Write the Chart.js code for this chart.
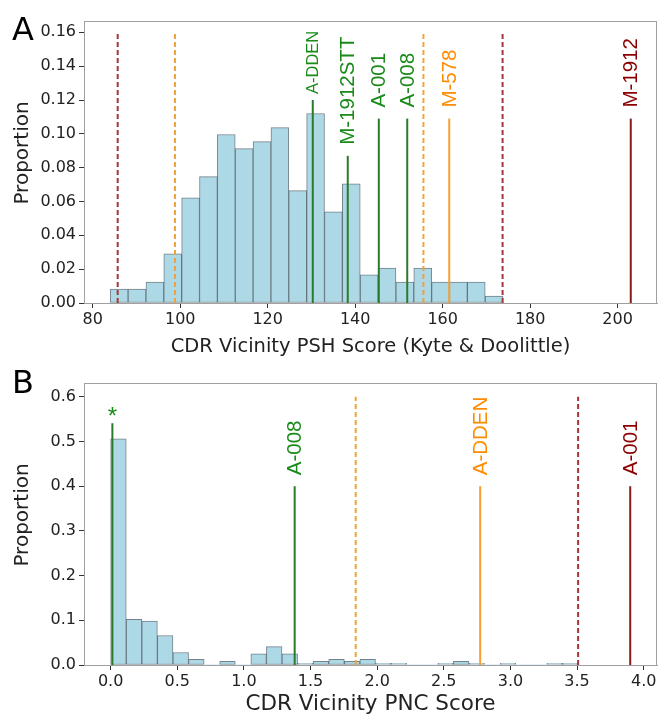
<!DOCTYPE html>
<html><head><meta charset="utf-8">
<script src="https://cdn.jsdelivr.net/npm/chart.js@4/dist/chart.umd.min.js"></script>
<style>
html,body{margin:0;padding:0;background:#fff;width:661px;height:717px;overflow:hidden}
#wa{position:absolute;left:0;top:0;width:661px;height:362px}
#wb{position:absolute;left:0;top:362px;width:661px;height:355px}
</style></head><body>
<div id="wa"><canvas id="ca"></canvas></div>
<div id="wb"><canvas id="cb"></canvas></div>
<script>
// ---- Panel A data (PSH score histogram) ----
const binStartA = 84.0;
const binWidthA = 4.082;
const propA = [0.0083,0.0083,0.0124,0.0290,0.0622,0.0747,0.0996,0.0913,0.0954,0.1037,0.0664,0.1120,0.0539,0.0705,0.0166,0.0207,0.0124,0.0207,0.0124,0.0124,0.0124,0.0041];
const markerNamesA = ['A-DDEN','M-1912STT','A-001','A-008','M-578','M-1912'];
const markerValuesA = [130.3,138.3,145.4,151.9,161.5,203.0];
const markerHeightsA = [0.120,0.087,0.109,0.109,0.109,0.109];
const markerKindsA = ['green','green','green','green','orange','red'];
const thresholdValuesA = [85.7,98.8,155.6,173.7];
const thresholdKindsA = ['red','orange','orange','red'];
const thresholdHeightA = 0.159;

// ---- Panel B data (PNC score histogram) ----
const binStartB = 0.0;
const binWidthB = 0.1169;
const propB = [0.506,0.102,0.098,0.066,0.028,0.0125,0,0.008,0,0.025,0.041,0.025,0.004,0.008,0.0125,0.008,0.0125,0.004,0.004,0,0,0.004,0.008,0.004,0,0.004,0,0,0.004,0.004];
const markerNamesB = ['*','A-008','A-DDEN','A-001'];
const markerValuesB = [0.013,1.381,2.773,3.899];
const markerHeightsB = [0.541,0.40,0.40,0.40];
const markerKindsB = ['green','green','orange','red'];
const thresholdValuesB = [1.839,3.508];
const thresholdKindsB = ['orange','red'];
const thresholdHeightB = 0.60;

// ---- styles ----
const STYLE = {
  green:  {line:'#2b7a2b', dash:'#2b7a2b', text:'#1a8a1a'},
  orange: {line:'#f5a031', dash:'#f2a23c', text:'#ff8c00'},
  red:    {line:'#8b1a1a', dash:'#a83636', text:'#8b0000'}
};
const TICKFONT = {family:'"DejaVu Sans"', size:16};
const LABEL_SIZE = 20.5;
const LABEL_STYLE_OVERRIDE = {A:{'A-DDEN':{size:16.5, gap:6}}, B:{}};

function buildDatasets(binStart, binWidth, props, mVals, mHeights, mKinds, tVals, tKinds, tHeight){
  const ds = [{
    type:'bar',
    data: props.map((p,i)=>({x: binStart + binWidth*(i+0.5), y: p})),
    backgroundColor:'#add8e6',
    borderColor:'rgba(70,88,100,0.75)',
    borderWidth: ctx => (ctx.raw && ctx.raw.y > 0) ? 1 : 0,
    borderSkipped:false,
    barPercentage:1, categoryPercentage:1,
    order:3
  }];
  tVals.forEach((v,i)=>ds.push({
    type:'line', data:[{x:v,y:0},{x:v,y:tHeight}],
    borderColor:STYLE[tKinds[i]].dash, borderWidth:2, borderDash:[5,3],
    pointRadius:0, order:2
  }));
  mVals.forEach((v,i)=>ds.push({
    type:'line', data:[{x:v,y:0},{x:v,y:mHeights[i]}],
    borderColor:STYLE[mKinds[i]].line, borderWidth:2,
    pointRadius:0, order:1
  }));
  return ds;
}

function labelPlugin(names, vals, heights, kinds, letter, letterY){
  return {
    id:'labels'+letter,
    afterDraw(chart){
      const {ctx, chartArea:ca, scales:{x,y}} = chart;
      ctx.save();
      // frame
      ctx.strokeStyle = '#a0a0a0'; ctx.lineWidth = 1;
      ctx.strokeRect(Math.round(ca.left)+0.5, Math.round(ca.top)+0.5, Math.round(ca.right-ca.left)-1, Math.round(ca.bottom-ca.top));
      // panel letter
      ctx.fillStyle = '#000';
      ctx.font = '32px "DejaVu Sans"';
      ctx.textAlign = 'left'; ctx.textBaseline = 'alphabetic';
      ctx.fillText(letter, 12, letterY);
      // y-axis title
      ctx.save();
      ctx.translate(23, (ca.top + ca.bottom)/2 - 9);
      ctx.rotate(-Math.PI/2);
      ctx.font = '20px "DejaVu Sans"';
      ctx.fillStyle = '#222';
      ctx.textAlign = 'center'; ctx.textBaseline = 'middle';
      ctx.fillText('Proportion', 0, 0);
      ctx.restore();
      // marker labels
      ctx.beginPath(); ctx.rect(ca.left+1, ca.top+1, ca.right-ca.left-2, ca.bottom-ca.top-2); ctx.clip();
      names.forEach((n,i)=>{
        const ov = LABEL_STYLE_OVERRIDE[letter][n] || {};
        const size = ov.size || LABEL_SIZE;
        const gap = ov.gap || 11;
        ctx.font = size + 'px "Liberation Sans"';
        const px = x.getPixelForValue(vals[i]);
        const py = y.getPixelForValue(heights[i]);
        ctx.fillStyle = STYLE[kinds[i]].text;
        if (n === '*') {
          ctx.font = '24px "Liberation Sans"';
          ctx.textAlign='center'; ctx.textBaseline='alphabetic';
          ctx.fillText(n, px, py + 1);
          return;
        }
        const w = ctx.measureText(n).width;
        ctx.save();
        ctx.translate(px, py - gap);
        ctx.rotate(-Math.PI/2);
        ctx.fillStyle = 'rgba(255,255,255,0.9)';
        ctx.fillRect(-2, -size*0.55, w+4, size*1.1);
        ctx.fillStyle = STYLE[kinds[i]].text;
        ctx.textAlign='left'; ctx.textBaseline='middle';
        ctx.fillText(n, 0, 1);
        ctx.restore();
      });
      ctx.restore();
    }
  };
}

function axes(xmin,xmax,xstep,xdec,ymax,ystep,ydec,xTitle,xTitleSize,xAxisH,xTitlePad){
  return {
    x:{type:'linear', min:xmin, max:xmax, offset:false,
       afterFit(s){ s.height = xAxisH; },
       grid:{display:true, drawOnChartArea:false, drawTicks:true, tickLength:5, color:'#333', offset:false},
       border:{display:true, color:'#a0a0a0'},
       ticks:{stepSize:xstep, includeBounds:false, autoSkip:false, maxRotation:0, padding:2, color:'#222', font:TICKFONT,
              callback:v=>Number(v).toFixed(xdec)},
       title:{display:true, text:xTitle, color:'#222', font:{family:'"DejaVu Sans"', size:xTitleSize}, padding:{top:0,bottom:xTitlePad}}
    },
    y:{min:0, max:ymax,
       afterFit(s){ s.width = 84; },
       grid:{display:true, drawOnChartArea:false, drawTicks:true, tickLength:5, color:'#333'},
       border:{display:true, color:'#a0a0a0'},
       ticks:{stepSize:ystep, includeBounds:false, padding:3, color:'#222', font:TICKFONT,
              callback:v=>Number(v).toFixed(ydec)},
       title:{display:false}
    }
  };
}

const common = {
  responsive:true, maintainAspectRatio:false, animation:false,
  plugins:{legend:{display:false}, tooltip:{enabled:false}},
  elements:{line:{tension:0}}
};

new Chart(document.getElementById('ca'), {
  type:'bar',
  data:{datasets: buildDatasets(binStartA, binWidthA, propA, markerValuesA, markerHeightsA, markerKindsA, thresholdValuesA, thresholdKindsA, thresholdHeightA)},
  options:Object.assign({}, common, {
    layout:{padding:{top:21,right:4,left:0,bottom:0}},
    scales: axes(78,209,20,0,0.1667,0.02,2,'CDR Vicinity PSH Score (Kyte & Doolittle)',19.5,59,3)
  }),
  plugins:[labelPlugin(markerNamesA, markerValuesA, markerHeightsA, markerKindsA, 'A', 40)]
});

new Chart(document.getElementById('cb'), {
  type:'bar',
  data:{datasets: buildDatasets(binStartB, binWidthB, propB, markerValuesB, markerHeightsB, markerKindsB, thresholdValuesB, thresholdKindsB, thresholdHeightB)},
  options:Object.assign({}, common, {
    layout:{padding:{top:21,right:4,left:0,bottom:0}},
    scales: axes(-0.2,4.1,0.5,1,0.631,0.1,1,'CDR Vicinity PNC Score',21.5,52,0)
  }),
  plugins:[labelPlugin(markerNamesB, markerValuesB, markerHeightsB, markerKindsB, 'B', 31)]
});
</script>
</body></html>
